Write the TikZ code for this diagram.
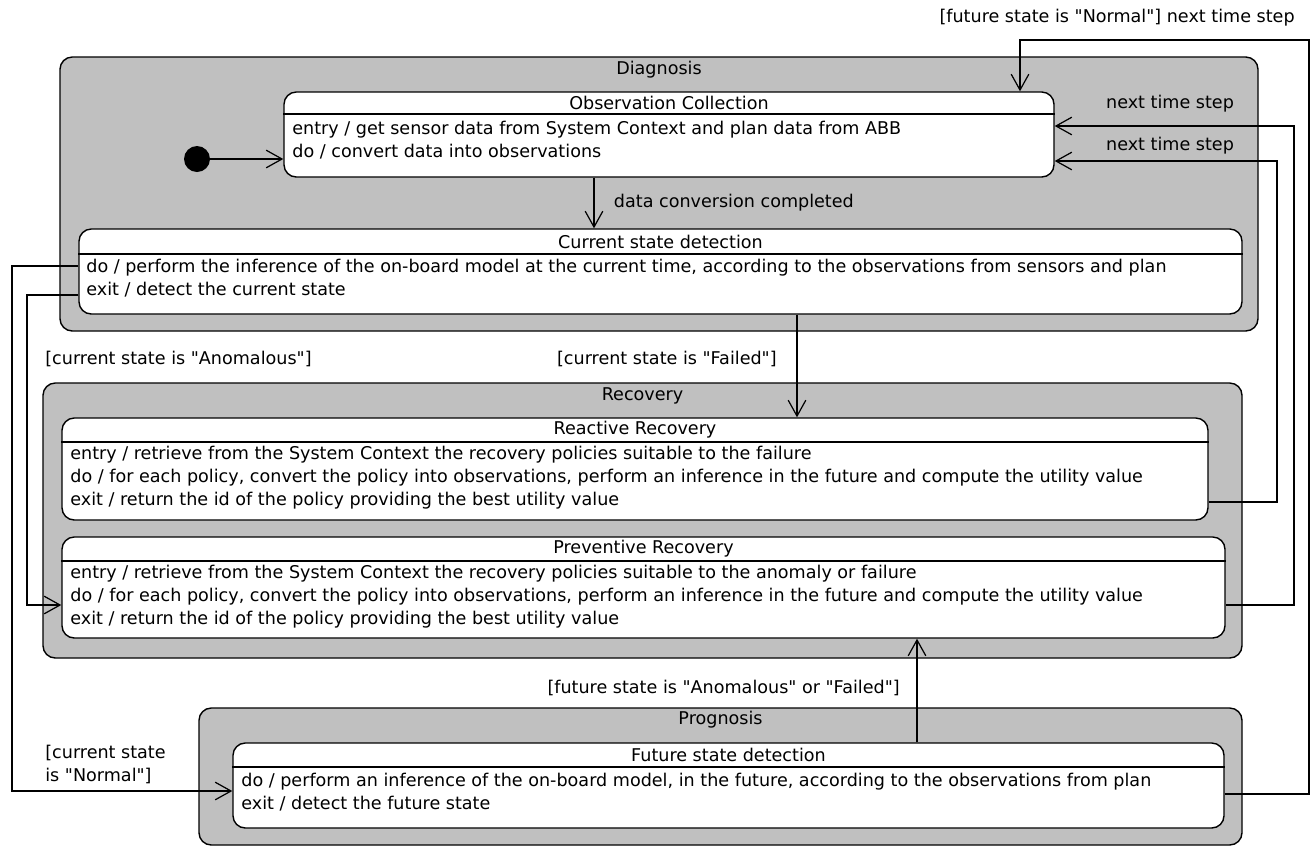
\documentclass[tikz,border=0pt]{standalone}
\usepackage{fontspec}
\setmainfont{DejaVu Sans}[Ligatures=TeXOff]
\usetikzlibrary{arrows.meta,fit}

\definecolor{regiongray}{RGB}{192,192,192}
\tikzset{
  region/.style={draw, line width=0.8pt, fill=regiongray, rounded corners=7pt, inner sep=0pt},
  state/.style={draw, line width=0.8pt, fill=white, rounded corners=7pt, inner sep=0pt},
  title/.style={inner sep=0pt},
  body/.style={anchor=west, align=left, inner sep=0pt},
  divider/.style={line width=0.8pt},
  initdot/.style={circle, fill=black, minimum size=0.52cm, inner sep=0pt},
  trans/.style={-{Straight Barb[length=9pt,width=10pt]}, line width=0.7pt},
  lbl/.style={inner sep=0pt},
}

\begin{document}
\begin{tikzpicture}[x=0.02cm, y=-0.02cm, font=\fontsize{10}{13.1}\selectfont]
  \useasboundingbox (0,0) rectangle (1310,846);

  % composite states
  \node[region, fit={(60,57) (1258,331)}] (diag) {};
  \node[region, fit={(43,383) (1242,658)}] (recov) {};
  \node[region, fit={(199,708) (1242,845)}] (progn) {};
  \node[title] (diagT) at (diag.north |- 0,70) {Diagnosis};
  \node[title] (recovT) at (recov.north |- 0,396) {Recovery};
  \node[title] (prognT) at (progn.north |- 0,720) {Prognosis};

  % simple states
  \node[state, fit={(284,92) (1054,177)}] (obs) {};
  \node[state, fit={(79,229) (1242,314)}] (cur) {};
  \node[state, fit={(62,418) (1208,520)}] (react) {};
  \node[state, fit={(62,537) (1225,638)}] (prev) {};
  \node[state, fit={(233,743) (1224,828)}] (fut) {};

  \node[title] (obsT) at (obs.north |- 0,103) {Observation Collection};
  \node[title] (curT) at (cur.north |- 0,242) {Current state detection};
  \node[title] (reactT) at (react.north |- 0,430) {Reactive Recovery};
  \node[title] (prevT) at (prev.north |- 0,549) {Preventive Recovery};
  \node[title] (futT) at (fut.north |- 0,755) {Future state detection};

  \draw[divider] (obs.west |- 0,114) -- (obs.east |- 0,114);
  \draw[divider] (cur.west |- 0,254) -- (cur.east |- 0,254);
  \draw[divider] (react.west |- 0,442) -- (react.east |- 0,442);
  \draw[divider] (prev.west |- 0,561) -- (prev.east |- 0,561);
  \draw[divider] (fut.west |- 0,767) -- (fut.east |- 0,767);

  \node[body] (obsB) at (292,140) {entry / get sensor data from System Context and plan data from ABB\\
    do / convert data into observations};
  \node[body] (curB) at (86,278) {do / perform the inference of the on-board model at the current time, according to the observations from sensors and plan\\
    exit / detect the current state};
  \node[body] (reactB) at (70,478) {entry / retrieve from the System Context the recovery policies suitable to the failure\\
    do / for each policy, convert the policy into observations, perform an inference in the future and compute the utility value\\
    exit / return the id of the policy providing the best utility value};
  \node[body] (prevB) at (70,597) {entry / retrieve from the System Context the recovery policies suitable to the anomaly or failure\\
    do / for each policy, convert the policy into observations, perform an inference in the future and compute the utility value\\
    exit / return the id of the policy providing the best utility value};
  \node[body] (futB) at (241,792) {do / perform an inference of the on-board model, in the future, according to the observations from plan\\
    exit / detect the future state};

  \node[initdot] (init) at (197,159) {};

  % transitions
  \draw[trans] (init) -- (obs.west |- init);
  \draw[trans] (obs.south -| 594,0) -- node[lbl, anchor=west, xshift=11pt] (convL) {data conversion completed} (cur.north -| 594,0);
  \draw[trans] (cur.south -| 797,0) -- (react.north -| 797,0);
  \node[lbl, anchor=east] (failL) at (777,359) {[current state is "Failed"]};
  \draw[trans] (cur.west |- 0,295) -| (27,605) -- (prev.west |- 0,605);
  \node[lbl, anchor=west] (anomL) at (45,359) {[current state is "Anomalous"]};
  \draw[trans] (cur.west |- 0,266) -| (12,791) -- (fut.west |- 0,791);
  \node[lbl, anchor=west, align=left] (normL) at (45,764) {[current state\\is "Normal"]};
  \draw[trans] (fut.north -| 917,0) -- (prev.south -| 917,0);
  \node[lbl, anchor=east] (futFL) at (900,688) {[future state is "Anomalous" or "Failed"]};
  \draw[trans] (react.east |- 0,502) -| (1277,161) -- (obs.east |- 0,161);
  \node[lbl] (nextA) at (1170,146) {next time step};
  \draw[trans] (prev.east |- 0,605) -| (1294,126) -- (obs.east |- 0,126);
  \node[lbl] (nextB) at (1170,104) {next time step};
  \draw[trans] (fut.east |- 0,794) -| (1309,40) -| (obs.north -| 1020,0);
  \node[lbl, anchor=east] (futNL) at (1295,18) {[future state is "Normal"] next time step};
\end{tikzpicture}
\end{document}
